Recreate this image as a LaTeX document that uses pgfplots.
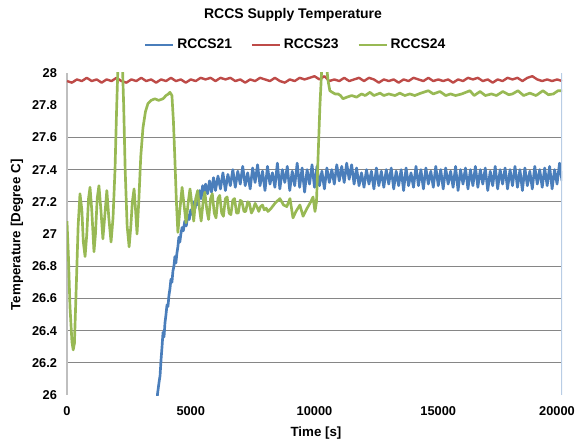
\documentclass[border=0pt]{standalone}
\usepackage{fontspec}
\setmainfont{Liberation Sans}
\usepackage{pgfplots}
\pgfplotsset{compat=1.18}

\definecolor{sblue}{HTML}{4A7EBB}
\definecolor{sred}{HTML}{BE4B48}
\definecolor{sgreen}{HTML}{98B954}
\definecolor{gridc}{HTML}{868686}
\definecolor{axisc}{HTML}{BFBFBF}
\definecolor{edgeblue}{HTML}{B9CDE5}

\begin{document}
\begin{tikzpicture}
\useasboundingbox (-50.25pt,-37.5pt) rectangle (382.5pt,296.25pt);
\begin{axis}[
  at={(0,0)}, anchor=south west,
  scale only axis,
  width=371.25pt, height=241.5pt,
  xmin=0, xmax=20000, ymin=26, ymax=28,
  axis lines*=left,
  x axis line style={draw=none},
  y axis line style={draw=axisc, line width=1.2pt},
  tick style={draw=none},
  xtick={0,5000,10000,15000,20000},
  xticklabels={0,5000,10000,15000,{\kern-7.5pt 20000}},
  scaled x ticks=false,
  ytick={26.2,26.4,26.6,26.8,27.2,27.4,27.6},
  extra y ticks={26,27,27.8,28},
  extra y tick style={grid=none},
  minor ytick={27.4},
  ymajorgrids=true, yminorgrids=true,
  major grid style={gridc, line width=0.8pt},
  minor grid style={gridc, line width=1.3pt},
  /pgf/number format/assume math mode=true,
  /pgf/number format/1000 sep={},
  ticklabel style={font=\bfseries\fontsize{9.6}{12}\selectfont},
  yticklabel style={xshift=-4pt},
  xticklabel style={yshift=-5pt},
  title={RCCS Supply Temperature},
  every axis title/.style={at={(axis description cs:0.4566,1)}, anchor=center, yshift=43.5pt,
    font=\bfseries\fontsize{10.5}{12}\selectfont},
  xlabel={Time [s]},
  every axis x label/.style={at={(axis description cs:0.503,0)}, anchor=center, yshift=-28.5pt,
    font=\bfseries\fontsize{10}{12}\selectfont},
  ylabel={Temperature [Degree C]},
  every axis y label/.style={at={(axis description cs:-0.101,0.497)}, rotate=90, anchor=center,
    font=\bfseries\fontsize{10}{12}\selectfont},
  legend style={at={(axis description cs:0.4626,1)}, anchor=center, yshift=21pt,
    draw=none, fill=none, font=\bfseries\fontsize{10.4}{12}\selectfont,
    /tikz/every even column/.append style={column sep=12pt}},
  legend columns=3,
  legend image code/.code={\draw[#1] (0pt,0pt) -- (21pt,0pt);},
  clip=true,
]
\addplot[sblue, line width=2pt, line join=round] coordinates {
(3600,25.9) (3660,26.01) (3720,26.08) (3760,26.12) (3800,26.22) (3840,26.30) (3880,26.39)
(3920,26.36) (3960,26.45) (4000,26.50) (4040,26.56) (4080,26.55) (4120,26.62) (4160,26.66)
(4200,26.72) (4240,26.70) (4280,26.77) (4320,26.80) (4360,26.86) (4400,26.82) (4440,26.88)
(4480,26.92) (4520,26.98) (4560,26.95) (4600,27.00) (4650,27.04) (4700,27.02) (4760,27.08)
(4820,27.05) (4880,27.12) (4940,27.09) (5000,27.15) (5060,27.12) (5120,27.20) (5180,27.16)
(5240,27.24) (5300,27.18) (5360,27.27) (5420,27.22) (5480,27.30) (5540,27.24) (5600,27.31)
(5680,27.25) (5760,27.33) (5840,27.26) (5920,27.35) (6000,27.27)
(6100,27.36) (6200,27.28) (6300,27.38) (6400,27.27) (6500,27.37) (6600,27.30) (6700,27.40)
(6800,27.29) (6900,27.39) (7000,27.31) (7100,27.42) (7200,27.30) (7300,27.38) (7400,27.28)
(7500,27.41) (7600,27.32) (7700,27.43) (7800,27.30) (7900,27.39) (8000,27.27) (8100,27.42)
(8200,27.31) (8300,27.38) (8400,27.29) (8500,27.44) (8600,27.28) (8700,27.40) (8800,27.32)
(8900,27.42) (9000,27.27) (9100,27.39) (9200,27.30) (9300,27.44) (9400,27.29) (9500,27.41)
(9600,27.26) (9700,27.40) (9800,27.31) (9900,27.43) (10000,27.29) (10100,27.42) (10200,27.30)
(10300,27.39) (10400,27.28) (10500,27.41) (10600,27.32) (10700,27.40) (10800,27.31) (10900,27.43)
(11000,27.33) (11100,27.42) (11200,27.32) (11300,27.44) (11400,27.34) (11500,27.43) (11600,27.31)
(11700,27.41) (11800,27.30) (11900,27.38) (12000,27.29) (12100,27.40) (12200,27.31) (12300,27.39)
(12400,27.28) (12500,27.41) (12600,27.30) (12700,27.39) (12800,27.29) (12900,27.40) (13000,27.31)
(13100,27.41) (13200,27.28) (13300,27.39) (13400,27.30) (13500,27.40) (13600,27.27) (13700,27.41)
(13800,27.30) (13900,27.38) (14000,27.29) (14100,27.42) (14200,27.30) (14300,27.40) (14400,27.28)
(14500,27.41) (14600,27.31) (14700,27.39) (14800,27.29) (14900,27.42) (15000,27.30) (15100,27.40)
(15200,27.28) (15300,27.41) (15400,27.31) (15500,27.39) (15600,27.29) (15700,27.42) (15800,27.27)
(15900,27.40) (16000,27.31) (16100,27.41) (16200,27.28) (16300,27.40) (16400,27.30) (16500,27.42)
(16600,27.29) (16700,27.40) (16800,27.31) (16900,27.41) (17000,27.27) (17100,27.39) (17200,27.30)
(17300,27.42) (17400,27.28) (17500,27.40) (17600,27.31) (17700,27.41) (17800,27.28) (17900,27.40)
(18000,27.30) (18100,27.42) (18200,27.29) (18300,27.40) (18400,27.27) (18500,27.41) (18600,27.30)
(18700,27.39) (18800,27.28) (18900,27.42) (19000,27.31) (19100,27.40) (19200,27.29) (19300,27.41)
(19400,27.30) (19500,27.42) (19600,27.28) (19700,27.40) (19800,27.31) (19900,27.44) (20000,27.33)
};
\addlegendentry{RCCS21}
\addplot[sred, line width=1.8pt, line join=round] coordinates {
(0,27.95) (200,27.94) (400,27.96) (600,27.95) (800,27.97) (1000,27.95) (1200,27.96) (1400,27.94)
(1600,27.96) (1800,27.95) (2000,27.97) (2200,27.95) (2400,27.94) (2600,27.96) (2800,27.95)
(3000,27.97) (3200,27.95) (3400,27.96) (3600,27.94) (3800,27.96) (4000,27.95) (4200,27.97)
(4400,27.95) (4600,27.96) (4800,27.94) (5000,27.96) (5200,27.95) (5400,27.97) (5600,27.96)
(5800,27.97) (6000,27.95) (6200,27.97) (6400,27.96) (6600,27.97) (6800,27.95) (7000,27.96)
(7200,27.94) (7400,27.96) (7600,27.95) (7800,27.97) (8000,27.96) (8200,27.95) (8400,27.97)
(8600,27.95) (8800,27.94) (9000,27.96) (9200,27.95) (9400,27.97) (9600,27.96) (9800,27.97)
(10000,27.98) (10200,27.96) (10400,27.98) (10600,27.95) (10800,27.96) (11000,27.95) (11200,27.97)
(11400,27.95) (11600,27.96) (11800,27.97) (12000,27.95) (12200,27.97) (12400,27.96) (12600,27.94)
(12800,27.96) (13000,27.95) (13200,27.96) (13400,27.94) (13600,27.96) (13800,27.95) (14000,27.97)
(14200,27.96) (14400,27.95) (14600,27.97) (14800,27.95) (15000,27.96) (15200,27.95) (15400,27.96)
(15600,27.94) (15800,27.96) (16000,27.95) (16200,27.97) (16400,27.96) (16600,27.97) (16800,27.95)
(17000,27.96) (17200,27.94) (17400,27.96) (17600,27.95) (17800,27.97) (18000,27.96) (18200,27.97)
(18400,27.95) (18600,27.97) (18800,27.98) (19000,27.96) (19200,27.95) (19400,27.96) (19600,27.95)
(19800,27.96) (20000,27.95)
};
\addlegendentry{RCCS23}
\addplot[sgreen, line width=2pt, line join=round] coordinates {
(0,27.08) (60,26.85) (120,26.55) (200,26.33) (250,26.28) (300,26.32) (380,26.70) (450,27.05)
(525,27.25) (600,27.15) (660,26.95) (730,26.86) (800,27.00) (870,27.22) (930,27.29) (1000,27.15)
(1090,26.89) (1150,27.00) (1220,27.22) (1290,27.30) (1370,27.15) (1450,26.97) (1530,27.12)
(1610,27.27) (1690,27.10) (1780,26.95) (1860,27.10) (1940,27.40) (2000,27.75) (2060,28.05)
(2150,28.3) (2230,28.1) (2290,27.8) (2350,27.4) (2430,27.05) (2510,26.92) (2580,27.05)
(2640,27.20) (2710,27.28) (2770,27.15) (2830,27.00) (2900,27.20) (2980,27.48) (3070,27.66)
(3170,27.76) (3270,27.81) (3400,27.83) (3550,27.84) (3700,27.83) (3880,27.84) (4000,27.86)
(4100,27.87) (4160,27.88) (4240,27.86) (4300,27.70) (4360,27.46) (4420,27.20) (4480,27.01)
(4560,27.15) (4650,27.29) (4730,27.18) (4810,27.07) (4900,27.20) (4970,27.28) (5050,27.18)
(5120,27.08) (5200,27.22) (5280,27.27) (5350,27.16) (5420,27.08) (5500,27.20) (5570,27.26)
(5650,27.15) (5720,27.09) (5800,27.22) (5870,27.25) (5950,27.13) (6020,27.10) (6100,27.22)
(6170,27.24) (6250,27.13) (6320,27.11) (6400,27.22) (6470,27.23) (6550,27.13) (6620,27.12)
(6700,27.21) (6770,27.22) (6850,27.13) (6920,27.13) (7000,27.21) (7070,27.20) (7150,27.14)
(7220,27.14) (7300,27.20) (7370,27.19) (7450,27.13) (7520,27.15) (7600,27.19) (7670,27.17)
(7750,27.14) (7820,27.17) (7900,27.18) (7970,27.15) (8050,27.16) (8120,27.14) (8250,27.16)
(8400,27.19) (8600,27.22) (8750,27.18) (8880,27.17) (9010,27.22) (9130,27.10) (9250,27.14)
(9410,27.18) (9540,27.11) (9700,27.16) (9850,27.20) (9940,27.23) (10020,27.14) (10080,27.20)
(10140,27.46) (10220,27.80) (10300,28.05) (10400,28.2) (10480,28.05) (10550,27.95) (10620,27.89)
(10720,27.88) (10830,27.87) (10950,27.87) (11050,27.86) (11150,27.84) (11310,27.85) (11500,27.86)
(11700,27.85) (11900,27.87) (12050,27.86) (12240,27.88) (12400,27.86) (12650,27.875) (12800,27.86)
(13000,27.87) (13250,27.86) (13450,27.875) (13650,27.86) (13850,27.87) (14050,27.86) (14300,27.875)
(14600,27.89) (14800,27.87) (15070,27.885) (15300,27.86) (15500,27.87) (15700,27.86) (15950,27.87)
(16280,27.89) (16450,27.86) (16690,27.885) (16900,27.86) (17150,27.87) (17350,27.86) (17610,27.885)
(17850,27.865) (18000,27.87) (18220,27.89) (18450,27.86) (18700,27.875) (18950,27.86) (19230,27.89)
(19450,27.865) (19650,27.87) (19840,27.89) (20000,27.89)
};
\addlegendentry{RCCS24}
\addplot[edgeblue, line width=1.2pt, forget plot] coordinates {(20000,26) (20000,28)};
\end{axis}
\end{tikzpicture}
\end{document}
